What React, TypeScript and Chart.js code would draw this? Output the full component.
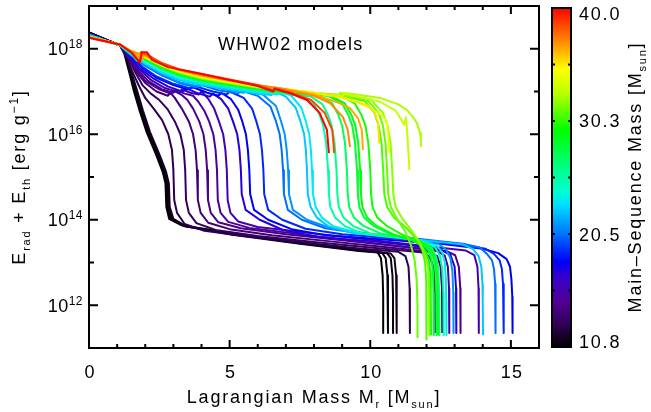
import React, { useEffect, useRef } from 'react';
import { Chart, registerables } from 'chart.js';

Chart.register(...registerables);

// ---------------- data: [Lagrangian mass M_r, log10(E_rad + E_th)] ----------------
const M10_8 = [[0,18.38],[1.1,18.08],[1.25,17.9],[1.45,17.4],[1.6,17.0],[1.8,16.55],[2.05,16.05],[2.4,15.5],[2.62,15.12],[2.72,14.85],[2.75,14.3],[2.85,14.02],[3.3,13.87],[5.1,13.68],[7.5,13.47],[9.6,13.3],[10.25,13.25],[10.38,13.1],[10.44,12.7],[10.46,12.2],[10.46,11.35]];
const M11_0 = [[0,18.38],[1.1,18.08],[1.28,17.9],[1.48,17.4],[1.64,17.0],[1.84,16.55],[2.09,16.05],[2.44,15.5],[2.66,15.12],[2.76,14.85],[2.79,14.3],[2.9,14.02],[3.35,13.86],[5.1,13.67],[7.5,13.46],[9.6,13.29],[10.42,13.23],[10.55,13.1],[10.61,12.7],[10.63,12.2],[10.63,11.35]];
const M11_2 = [[0,18.38],[1.1,18.08],[1.3,17.9],[1.5,17.4],[1.68,17.0],[1.88,16.55],[2.13,16.05],[2.48,15.5],[2.7,15.12],[2.8,14.85],[2.83,14.3],[2.95,14.02],[3.4,13.85],[5.1,13.66],[7.5,13.45],[9.6,13.28],[10.6,13.22],[10.73,13.1],[10.79,12.7],[10.81,12.2],[10.81,11.35]];
const M11_6 = [[0,18.37],[1.1,18.08],[1.32,17.9],[1.53,17.4],[1.72,17.0],[1.92,16.55],[2.17,16.05],[2.52,15.5],[2.74,15.12],[2.84,14.85],[2.87,14.3],[3.0,14.02],[3.45,13.85],[5.1,13.65],[7.5,13.44],[9.6,13.27],[10.73,13.21],[10.86,13.1],[10.92,12.7],[10.94,12.2],[10.94,11.35]];
const M12_6 = [[0,18.36],[1.1,18.08],[1.3,17.85],[1.55,17.45],[1.8,17.1],[2.0,16.85],[2.3,16.6],[2.6,16.33],[2.82,16.0],[2.95,15.63],[3.0,15.16],[3.03,14.46],[3.13,14.16],[3.4,13.9],[4.1,13.74],[5.5,13.62],[7.5,13.48],[9.6,13.33],[11.0,13.25],[11.25,13.15],[11.36,12.9],[11.4,12.4],[11.41,11.35]];
const M13_1 = [[0,18.36],[1.1,18.08],[1.35,17.85],[1.6,17.5],[1.9,17.15],[2.2,16.95],[2.5,16.8],[2.8,16.58],[3.05,16.3],[3.25,16.0],[3.37,15.63],[3.42,15.16],[3.45,14.46],[3.55,14.16],[3.82,13.92],[4.5,13.76],[6.0,13.62],[8.0,13.48],[10.0,13.35],[11.8,13.24],[12.1,13.15],[12.25,12.9],[12.3,12.4],[12.31,11.35]];
const M13_7 = [[0,18.35],[1.1,18.08],[1.4,17.8],[1.7,17.45],[2.0,17.2],[2.4,17.0],[2.8,16.9],[2.9,16.97],[3.05,16.85],[3.3,16.6],[3.55,16.3],[3.7,16.0],[3.79,15.63],[3.84,15.16],[3.87,14.46],[3.97,14.16],[4.24,13.93],[5.0,13.78],[6.5,13.64],[8.5,13.5],[10.5,13.36],[12.1,13.25],[12.38,13.15],[12.5,12.9],[12.55,12.4],[12.56,11.35]];
const M14_3 = [[0,18.35],[1.1,18.08],[1.4,17.82],[1.7,17.5],[2.0,17.25],[2.5,17.05],[2.9,16.95],[3.0,17.02],[3.3,16.92],[3.5,16.8],[3.7,16.6],[3.92,16.3],[4.07,16.0],[4.15,15.63],[4.2,15.16],[4.23,14.46],[4.33,14.16],[4.6,13.94],[5.4,13.8],[7.0,13.66],[9.0,13.52],[11.0,13.38],[12.7,13.27],[13.02,13.17],[13.15,12.9],[13.2,12.4],[13.21,11.35]];
const M14_9 = [[0,18.35],[1.1,18.08],[1.45,17.8],[1.75,17.5],[2.1,17.25],[2.6,17.05],[3.0,16.97],[3.1,17.04],[3.4,16.95],[3.7,16.9],[3.9,16.75],[4.1,16.55],[4.27,16.3],[4.42,16.0],[4.5,15.63],[4.55,15.16],[4.58,14.46],[4.68,14.16],[4.95,13.95],[5.7,13.81],[7.5,13.66],[9.5,13.5],[11.2,13.37],[12.35,13.27],[12.65,13.16],[12.76,12.9],[12.8,12.4],[12.81,11.35]];
const M15_8 = [[0,18.35],[1.1,18.08],[1.45,17.82],[1.8,17.52],[2.2,17.27],[2.7,17.08],[3.2,16.98],[3.3,17.05],[3.6,16.97],[3.9,16.93],[4.0,17.0],[4.25,16.82],[4.45,16.6],[4.62,16.3],[4.77,16.0],[4.85,15.63],[4.9,15.16],[4.93,14.46],[5.03,14.16],[5.3,13.96],[6.0,13.83],[8.0,13.68],[10.0,13.53],[12.0,13.38],[13.4,13.28],[13.7,13.17],[13.81,12.9],[13.85,12.4],[13.86,11.35]];
const M17_2 = [[0,18.34],[1.1,18.08],[1.45,17.8],[1.8,17.55],[2.3,17.3],[2.8,17.12],[3.3,17.0],[3.5,17.06],[3.9,16.95],[4.3,16.88],[4.4,16.95],[4.7,16.82],[4.95,16.6],[5.12,16.3],[5.27,16.0],[5.35,15.63],[5.4,15.16],[5.43,14.6],[5.57,14.23],[6.07,14.0],[6.9,13.76],[8.1,13.6],[10.0,13.5],[11.5,13.4],[12.5,13.3],[12.85,13.18],[13.0,12.9],[13.05,12.4],[13.06,11.35]];
const M18_1 = [[0,18.33],[1.1,18.08],[1.5,17.82],[1.9,17.55],[2.4,17.32],[3.0,17.15],[3.5,17.05],[3.7,17.1],[4.2,16.97],[4.6,16.9],[4.7,16.97],[5.05,16.82],[5.3,16.58],[5.45,16.3],[5.58,16.0],[5.65,15.63],[5.7,15.16],[5.73,14.6],[5.87,14.23],[6.37,14.0],[7.2,13.78],[8.4,13.64],[10.5,13.54],[12.5,13.44],[14.0,13.32],[14.55,13.22],[14.85,13.08],[14.97,12.9],[15.02,12.6],[15.05,12.2],[15.06,11.35]];
const M19_0 = [[0,18.33],[1.1,18.08],[1.5,17.83],[1.9,17.58],[2.4,17.35],[3.0,17.18],[3.6,17.07],[3.8,17.12],[4.4,17.0],[4.9,16.93],[5.0,17.0],[5.5,16.85],[5.8,16.6],[5.95,16.3],[6.08,16.0],[6.15,15.63],[6.2,15.16],[6.23,14.6],[6.37,14.23],[6.87,14.0],[7.7,13.79],[9.0,13.66],[11.0,13.55],[13.0,13.43],[14.1,13.32],[14.4,13.2],[14.6,13.05],[14.68,12.85],[14.72,12.5],[14.74,12.1],[14.75,11.35]];
const M20_4 = [[0,18.33],[1.1,18.08],[1.5,17.85],[2.0,17.6],[2.6,17.37],[3.2,17.2],[3.8,17.1],[4.0,17.15],[4.6,17.03],[5.3,16.95],[5.4,17.02],[6.0,16.9],[6.45,16.65],[6.65,16.3],[6.78,16.0],[6.85,15.63],[6.9,15.16],[6.93,14.6],[7.07,14.23],[7.57,14.0],[8.4,13.8],[9.7,13.68],[11.5,13.57],[13.3,13.44],[13.9,13.35],[14.15,13.2],[14.33,13.05],[14.4,12.85],[14.44,12.5],[14.45,12.1],[14.46,11.35]];
const M21_3 = [[0,18.32],[1.1,18.08],[1.5,17.86],[2.0,17.62],[2.6,17.4],[3.2,17.22],[3.9,17.12],[4.1,17.17],[4.8,17.05],[5.5,16.97],[5.6,17.05],[6.2,16.92],[6.65,16.66],[6.83,16.3],[6.96,16.0],[7.03,15.63],[7.08,15.16],[7.11,14.6],[7.25,14.23],[7.75,14.0],[8.6,13.8],[10.0,13.67],[11.5,13.56],[12.4,13.45],[12.7,13.3],[12.85,13.1],[12.92,12.8],[12.95,12.3],[12.96,11.35]];
const M22_5 = [[0,18.32],[1.1,18.08],[1.5,17.87],[2.0,17.65],[2.6,17.43],[3.2,17.27],[4.0,17.15],[5.0,17.05],[6.0,16.95],[6.5,16.92],[6.6,17.0],[7.0,16.88],[7.35,16.62],[7.52,16.3],[7.65,16.0],[7.71,15.63],[7.75,15.16],[7.78,14.6],[7.88,14.3],[8.1,14.05],[8.5,13.85],[9.3,13.7],[10.6,13.6],[12.2,13.5],[13.3,13.42],[13.65,13.32],[13.85,13.15],[13.95,12.9],[13.99,12.5],[14.0,12.1],[14.01,11.3]];
const M23_4 = [[0,18.31],[1.1,18.08],[1.5,17.88],[2.0,17.66],[2.6,17.45],[3.2,17.3],[4.0,17.18],[5.0,17.08],[6.0,16.98],[6.7,16.93],[6.8,17.0],[7.2,16.9],[7.55,16.62],[7.71,16.3],[7.83,16.0],[7.89,15.63],[7.93,15.16],[7.96,14.6],[8.06,14.3],[8.28,14.05],[8.68,13.85],[9.5,13.7],[10.8,13.6],[11.8,13.52],[12.35,13.4],[12.55,13.25],[12.65,13.0],[12.69,12.6],[12.7,12.1],[12.71,11.3]];
const M25_4 = [[0,18.3],[1.1,18.09],[1.5,17.9],[1.7,17.72],[1.78,17.86],[2.0,17.72],[2.6,17.5],[3.2,17.35],[4.0,17.22],[5.0,17.12],[6.0,17.02],[7.0,16.95],[7.6,16.88],[8.0,16.7],[8.2,16.45],[8.33,16.2],[8.43,15.8],[8.5,15.16],[8.53,14.6],[8.58,14.3],[8.75,14.05],[9.1,13.85],[9.7,13.68],[11.0,13.58],[11.8,13.5],[12.3,13.36],[12.48,13.15],[12.56,12.85],[12.6,12.3],[12.61,11.3]];
const M26_0 = [[0,18.3],[1.1,18.09],[1.5,17.9],[2.0,17.73],[2.6,17.52],[3.2,17.37],[4.0,17.24],[5.0,17.13],[6.0,17.03],[7.0,16.96],[7.9,16.88],[8.3,16.7],[8.5,16.45],[8.63,16.2],[8.73,15.8],[8.8,15.16],[8.83,14.6],[8.88,14.3],[9.05,14.05],[9.4,13.85],[10.0,13.68],[11.2,13.58],[11.8,13.48],[12.2,13.33],[12.35,13.12],[12.42,12.85],[12.45,12.3],[12.46,11.3]];
const M27_2 = [[0,18.3],[1.1,18.09],[1.5,17.9],[1.72,17.74],[1.8,17.88],[2.0,17.74],[2.6,17.54],[3.2,17.39],[4.0,17.26],[5.0,17.15],[6.0,17.05],[7.0,16.98],[8.2,16.9],[8.65,16.72],[8.87,16.45],[9.0,16.2],[9.1,15.8],[9.17,15.16],[9.2,14.6],[9.25,14.3],[9.42,14.05],[9.77,13.85],[10.37,13.68],[11.3,13.57],[11.8,13.47],[12.1,13.32],[12.25,13.1],[12.32,12.8],[12.35,12.3],[12.36,11.3]];
const M28_3 = [[0,18.29],[1.1,18.09],[1.5,17.91],[2.0,17.75],[2.6,17.55],[3.2,17.4],[4.0,17.27],[5.0,17.16],[6.0,17.06],[7.0,16.99],[8.5,16.9],[9.0,16.72],[9.22,16.45],[9.36,16.2],[9.46,15.8],[9.53,15.16],[9.56,14.6],[9.61,14.3],[9.78,14.05],[10.13,13.85],[10.73,13.66],[11.4,13.55],[11.8,13.45],[12.05,13.3],[12.17,13.08],[12.23,12.8],[12.25,12.3],[12.26,11.3]];
const M29_2 = [[0,18.29],[1.1,18.09],[1.5,17.91],[2.0,17.76],[2.6,17.56],[3.2,17.41],[4.0,17.28],[5.0,17.17],[6.0,17.07],[7.0,17.0],[8.6,16.9],[9.1,16.72],[9.33,16.45],[9.47,16.2],[9.57,15.8],[9.64,15.16],[9.67,14.6],[9.72,14.3],[9.89,14.05],[10.24,13.85],[10.84,13.65],[11.4,13.54],[11.75,13.43],[11.97,13.27],[12.08,13.05],[12.13,12.8],[12.15,12.3],[12.16,11.3]];
const M29_8 = [[0,18.29],[1.1,18.09],[1.5,17.92],[1.75,17.76],[1.83,17.9],[2.0,17.77],[2.6,17.57],[3.2,17.42],[4.0,17.29],[5.0,17.18],[6.0,17.08],[7.0,17.01],[8.0,16.95],[9.0,16.88],[9.45,16.72],[9.69,16.45],[9.83,16.2],[9.93,15.8],[10.0,15.16],[10.03,14.6],[10.08,14.3],[10.25,14.05],[10.6,13.85],[11.2,13.63],[11.7,13.52],[12.0,13.42],[12.2,13.28],[12.32,13.05],[12.37,12.8],[12.4,12.3],[12.41,11.3]];
const M30_7 = [[0,18.28],[1.1,18.09],[1.5,17.92],[2.0,17.78],[2.6,17.58],[3.2,17.44],[4.0,17.3],[5.0,17.19],[6.0,17.09],[7.0,17.02],[8.0,16.96],[9.0,16.9],[9.8,16.78],[10.15,16.5],[10.3,16.2],[10.4,15.8],[10.46,15.16],[10.5,14.6],[10.6,14.3],[10.85,14.05],[11.3,13.8],[11.65,13.55],[11.85,13.3],[11.95,13.0],[11.99,12.6],[12.0,12.1],[12.0,11.2]];
const M31_2 = [[0,18.28],[1.1,18.09],[1.5,17.93],[2.0,17.78],[2.6,17.59],[3.2,17.45],[4.0,17.31],[5.0,17.2],[6.0,17.1],[7.0,17.02],[8.0,16.96],[9.0,16.91],[9.9,16.8],[10.3,16.5],[10.45,16.2],[10.54,15.8],[10.6,15.16],[10.64,14.6],[10.73,14.3],[10.95,14.02],[11.25,13.72],[11.45,13.4],[11.58,13.05],[11.65,12.6],[11.68,12.0],[11.68,11.25]];
const M31_8 = [[0,18.28],[1.1,18.09],[1.5,17.93],[1.76,17.78],[1.84,17.92],[2.0,17.8],[2.6,17.6],[3.2,17.45],[4.0,17.31],[5.0,17.2],[6.0,17.1],[7.0,17.03],[8.0,16.97],[9.0,16.92],[10.0,16.82],[10.45,16.5],[10.62,16.2],[10.72,15.8],[10.78,15.16],[10.82,14.6],[10.9,14.3],[11.15,14.02],[11.5,13.72],[11.8,13.42],[11.98,13.15],[12.06,12.85],[12.09,12.4],[12.1,11.3]];
const M32_4 = [[0,18.28],[1.1,18.1],[1.5,17.93],[1.8,17.8],[2.0,17.85],[2.6,17.62],[3.2,17.47],[4.0,17.33],[5.0,17.21],[6.0,17.11],[7.0,17.03],[8.0,16.96],[8.9,16.9],[8.92,16.97],[9.39,16.94],[10.35,16.85],[11.0,16.7],[11.3,16.57],[11.5,16.42],[11.66,16.26],[11.77,16.03],[11.8,15.85],[11.81,15.7]];
const M33_0 = [[0,18.28],[1.1,18.1],[1.5,17.93],[2.0,17.8],[2.6,17.61],[3.2,17.46],[4.0,17.33],[5.0,17.21],[6.0,17.11],[7.0,17.03],[8.0,16.96],[9.0,16.89],[9.1,16.96],[9.3,16.92],[10.35,16.76],[10.9,16.55],[11.12,16.33],[11.2,16.22],[11.27,16.4],[11.33,15.87],[11.37,15.44],[11.39,15.16]];
const M34_2 = [[0,18.27],[1.1,18.1],[1.5,17.94],[1.85,17.78],[1.9,17.9],[2.1,17.82],[2.6,17.63],[3.2,17.48],[4.0,17.35],[5.0,17.23],[6.0,17.13],[7.0,17.05],[8.0,16.97],[9.0,16.86],[9.6,16.73],[10.0,16.61],[10.42,16.45],[10.58,16.3],[10.64,16.0],[10.67,15.56]];
const M35_3 = [[0,18.27],[1.1,18.1],[1.5,17.94],[2.0,17.83],[2.6,17.64],[3.2,17.49],[4.0,17.36],[5.0,17.24],[6.0,17.14],[7.0,17.06],[8.0,16.97],[9.0,16.86],[9.9,16.68],[10.15,16.52],[10.27,16.3],[10.3,16.0],[10.31,15.8]];
const M36_5 = [[0,18.27],[1.1,18.1],[1.5,17.94],[1.9,17.75],[1.95,17.9],[2.2,17.8],[2.6,17.65],[3.2,17.5],[4.0,17.37],[5.0,17.25],[6.0,17.14],[7.0,17.05],[8.0,16.93],[8.82,16.75],[9.28,16.61],[9.56,16.38],[9.7,16.1],[9.74,15.63]];
const M37_1 = [[0,18.27],[1.1,18.1],[1.5,17.94],[2.0,17.84],[2.6,17.66],[3.2,17.51],[4.0,17.38],[5.0,17.26],[6.0,17.15],[7.0,17.05],[8.0,16.9],[8.57,16.73],[9.03,16.4],[9.2,16.1],[9.28,15.7]];
const M38_5 = [[0,18.26],[1.1,18.1],[1.5,17.93],[1.8,17.7],[1.86,17.92],[2.1,17.85],[2.6,17.66],[3.2,17.52],[4.12,17.4],[5.0,17.28],[6.0,17.15],[6.55,17.03],[6.6,17.08],[7.2,16.97],[7.9,16.8],[8.38,16.5],[8.65,16.1],[8.72,15.56]];
const M40_0 = [[0,18.26],[1.1,18.1],[1.53,17.9],[1.81,17.67],[1.88,17.92],[2.06,17.92],[2.24,17.74],[2.81,17.57],[4.12,17.39],[5.0,17.27],[6.0,17.13],[6.55,17.0],[6.6,17.06],[7.15,16.96],[7.75,16.8],[8.2,16.5],[8.46,16.1],[8.53,15.56]];

const MASSES = [10.8, 11.0, 11.2, 11.6, 12.6, 13.1, 13.7, 14.3, 14.9, 15.8, 17.2, 18.1, 19.0, 20.4, 21.3, 22.5, 23.4, 25.4, 26.0, 27.2, 28.3, 29.2, 29.8, 30.7, 31.2, 31.8, 32.4, 33.0, 34.2, 35.3, 36.5, 37.1, 38.5, 40.0];
const TRACKS = [M10_8, M11_0, M11_2, M11_6, M12_6, M13_1, M13_7, M14_3, M14_9, M15_8, M17_2, M18_1, M19_0, M20_4, M21_3, M22_5, M23_4, M25_4, M26_0, M27_2, M28_3, M29_2, M29_8, M30_7, M31_2, M31_8, M32_4, M33_0, M34_2, M35_3, M36_5, M37_1, M38_5, M40_0];

const X_MIN = 0, X_MAX = 16;
const Y_MIN_EXP = 11, Y_MAX_EXP = 19;
const X_TICK_LABELS = [0, 5, 10, 15];
const Y_TICK_EXPS = [12, 14, 16, 18];
const CBAR_MIN = 10.8, CBAR_MAX = 40.0;
const CBAR_LABELS = ['10.8', '20.5', '30.3', '40.0'];

// ---------------- styling ----------------
const FAM = "'Liberation Sans', Arial, Helvetica, sans-serif";
const CMAP: number[][] = [
  [0.00, 0, 0, 0],
  [0.07, 50, 0, 90],
  [0.13, 80, 0, 144],
  [0.20, 60, 0, 200],
  [0.25, 0, 0, 245],
  [0.29, 0, 50, 255],
  [0.33, 0, 112, 255],
  [0.37, 0, 160, 255],
  [0.42, 0, 224, 255],
  [0.46, 0, 255, 210],
  [0.52, 0, 255, 145],
  [0.58, 0, 255, 70],
  [0.64, 0, 255, 0],
  [0.75, 190, 255, 0],
  [0.82, 255, 255, 0],
  [0.90, 255, 140, 0],
  [1.00, 255, 0, 0],
];
function cmap(f: number): string {
  f = Math.max(0, Math.min(1, f));
  for (let i = 1; i < CMAP.length; i++) {
    const a = CMAP[i - 1], b = CMAP[i];
    if (f <= b[0]) {
      const t = (f - a[0]) / (b[0] - a[0]);
      const r = Math.round(a[1] + (b[1] - a[1]) * t);
      const g = Math.round(a[2] + (b[2] - a[2]) * t);
      const bl = Math.round(a[3] + (b[3] - a[3]) * t);
      return `rgb(${r},${g},${bl})`;
    }
  }
  return 'rgb(255,0,0)';
}

type Seg = [string, number];
function rich(ctx: CanvasRenderingContext2D, segs: Seg[], x: number, y: number, align: string, size: number, sp: number) {
  const fonts = segs.map(([, m]) => `${m === 0 ? size : m === 1 ? Math.round(size * 0.68) : Math.round(size * 0.62)}px ${FAM}`);
  (ctx as any).letterSpacing = sp + 'px';
  ctx.textAlign = 'left';
  ctx.textBaseline = 'alphabetic';
  const widths = segs.map(([t], i) => { ctx.font = fonts[i]; return ctx.measureText(t).width; });
  const total = widths.reduce((a, b) => a + b, 0);
  let cx = align === 'center' ? x - total / 2 : align === 'right' ? x - total : x;
  segs.forEach(([t, m], i) => {
    ctx.font = fonts[i];
    const dy = m === 1 ? -size * 0.4 : m === -1 ? size * 0.28 : 0;
    ctx.fillText(t, cx, y + dy);
    cx += widths[i];
  });
  (ctx as any).letterSpacing = '0px';
}

const decor = {
  id: 'decor',
  afterDatasetsDraw(chart: any) {
    const ctx: CanvasRenderingContext2D = chart.ctx;
    const { left, right, top, bottom } = chart.chartArea;
    const xs = chart.scales.x, ys = chart.scales.y;
    ctx.save();
    ctx.strokeStyle = '#000';
    ctx.fillStyle = '#000';
    ctx.lineWidth = 2;
    ctx.lineCap = 'butt';
    // frame
    ctx.strokeRect(left, top, right - left, bottom - top);
    // x ticks (bottom + top), y ticks (left + right)
    ctx.beginPath();
    for (let v = X_MIN; v <= X_MAX; v++) {
      const px = xs.getPixelForValue(v);
      const len = v % 5 === 0 ? 8 : 4;
      ctx.moveTo(px, bottom); ctx.lineTo(px, bottom - len);
      ctx.moveTo(px, top); ctx.lineTo(px, top + len);
    }
    for (let e = Y_MIN_EXP; e <= Y_MAX_EXP; e++) {
      const py = ys.getPixelForValue(Math.pow(10, e));
      const len = e % 2 === 0 ? 9 : 5;
      ctx.moveTo(left, py); ctx.lineTo(left + len, py);
      ctx.moveTo(right, py); ctx.lineTo(right - len, py);
    }
    ctx.stroke();
    // tick labels
    X_TICK_LABELS.forEach((v) => {
      rich(ctx, [[String(v), 0]], xs.getPixelForValue(v) + 1, bottom + 30, 'center', 18, 1);
    });
    Y_TICK_EXPS.forEach((e) => {
      const py = ys.getPixelForValue(Math.pow(10, e));
      rich(ctx, [['10', 0], [String(e), 1]], left - 6, py + 6.5, 'right', 18, 0.5);
    });
    // axis titles
    rich(ctx, [['Lagrangian Mass M', 0], ['r', -1], [' [M', 0], ['sun', -1], [']', 0]], (left + right) / 2, bottom + 55, 'center', 18, 1.8);
    ctx.save();
    ctx.translate(25, 177);
    ctx.rotate(-Math.PI / 2);
    rich(ctx, [['E', 0], ['rad', -1], [' + E', 0], ['th', -1], [' [erg g', 0], ['\u22121', 1], [']', 0]], 0, 0, 'center', 18, 1.8);
    ctx.restore();
    // in-plot title
    rich(ctx, [['WHW02 models', 0]], 218, 50, 'left', 18, 1.3);

    // colour bar
    const cbL = 552, cbR = 571, cbT = top + 2, cbB = bottom - 1;
    const grad = ctx.createLinearGradient(0, cbB, 0, cbT);
    CMAP.forEach((s) => grad.addColorStop(s[0], `rgb(${s[1]},${s[2]},${s[3]})`));
    ctx.fillStyle = grad;
    ctx.fillRect(cbL, cbT, cbR - cbL, cbB - cbT);
    ctx.strokeStyle = '#000';
    ctx.lineWidth = 2;
    ctx.strokeRect(cbL, cbT, cbR - cbL, cbB - cbT);
    ctx.beginPath();
    for (let i = 1; i < 6; i++) {
      const py = cbB - (cbB - cbT) * i / 6;
      ctx.moveTo(cbL, py); ctx.lineTo(cbL + 3, py);
      ctx.moveTo(cbR, py); ctx.lineTo(cbR - 3, py);
    }
    ctx.stroke();
    ctx.fillStyle = '#000';
    CBAR_LABELS.forEach((lab) => {
      const v = parseFloat(lab);
      const py = cbB - (cbB - cbT) * (v - CBAR_MIN) / (CBAR_MAX - CBAR_MIN);
      const base = Math.max(cbT + 12, Math.min(cbB + 1, py + 6.5));
      rich(ctx, [[lab, 0]], 579, base, 'left', 18, 1.8);
    });
    ctx.save();
    ctx.translate(641, 177);
    ctx.rotate(-Math.PI / 2);
    rich(ctx, [['Main\u2013Sequence Mass [M', 0], ['sun', -1], [']', 0]], 0, 0, 'center', 18, 1.8);
    ctx.restore();
    ctx.restore();
  },
};

export default function App() {
  const ref = useRef<HTMLCanvasElement>(null);
  useEffect(() => {
    const canvas = ref.current;
    if (!canvas) return;
    const datasets = TRACKS.map((tr, i) => {
      const m = MASSES[i];
      return {
        label: `${m}`,
        data: tr.map(([x, l]) => ({ x, y: Math.pow(10, l) })),
        borderColor: cmap((m - CBAR_MIN) / (CBAR_MAX - CBAR_MIN)),
        borderWidth: 2,
        pointRadius: 0,
        tension: 0,
        fill: false,
        borderJoinStyle: 'round' as const,
        order: Math.round((CBAR_MAX - m) * 10),
      };
    });
    const chart = new Chart(canvas, {
      type: 'line',
      data: { datasets },
      options: {
        animation: false,
        responsive: false,
        devicePixelRatio: 1,
        layout: { padding: { left: 89, right: 112, top: 6, bottom: 64 } },
        plugins: { legend: { display: false }, tooltip: { enabled: false } },
        events: [],
        scales: {
          x: { type: 'linear', display: false, min: X_MIN, max: X_MAX },
          y: { type: 'logarithmic', display: false, min: Math.pow(10, Y_MIN_EXP), max: Math.pow(10, Y_MAX_EXP) },
        },
      },
      plugins: [decor],
    });
    return () => chart.destroy();
  }, []);
  return (
    <div style={{ position: 'fixed', left: 0, top: 0, width: 651, height: 412, background: '#fff' }}>
      <canvas ref={ref} width={651} height={412} style={{ display: 'block', width: 651, height: 412 }} />
    </div>
  );
}
